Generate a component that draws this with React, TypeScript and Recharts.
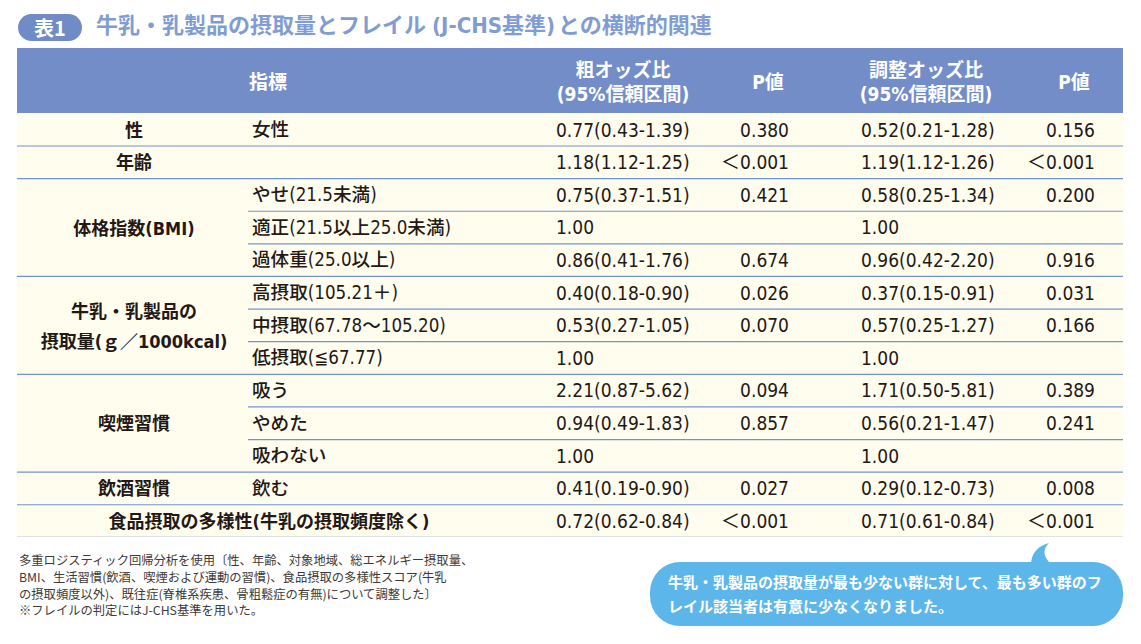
import { BarChart, Bar, XAxis, YAxis, CartesianGrid } from 'recharts'

const groupNames = [
  '性',
  '年齢',
  '体格指数(BMI)',
  '牛乳・乳製品の\n摂取量(ｇ／1000kcal)',
  '喫煙習慣',
  '飲酒習慣',
  '食品摂取の多様性(牛乳の摂取頻度除く)',
]
const groupSizes = [1, 1, 3, 3, 3, 1, 1]

const items = [
  '女性',
  '',
  'やせ(21.5未満)',
  '適正(21.5以上25.0未満)',
  '過体重(25.0以上)',
  '高摂取(105.21＋)',
  '中摂取(67.78～105.20)',
  '低摂取(≦67.77)',
  '吸う',
  'やめた',
  '吸わない',
  '飲む',
  '',
]

const crudeOR = [0.77, 1.18, 0.75, 1.0, 0.86, 0.4, 0.53, 1.0, 2.21, 0.94, 1.0, 0.41, 0.72]
const crudeLo = [0.43, 1.12, 0.37, null, 0.41, 0.18, 0.27, null, 0.87, 0.49, null, 0.19, 0.62]
const crudeHi = [1.39, 1.25, 1.51, null, 1.76, 0.9, 1.05, null, 5.62, 1.83, null, 0.9, 0.84]
const crudeP = ['0.380', '<0.001', '0.421', '', '0.674', '0.026', '0.070', '', '0.094', '0.857', '', '0.027', '<0.001']

const adjOR = [0.52, 1.19, 0.58, 1.0, 0.96, 0.37, 0.57, 1.0, 1.71, 0.56, 1.0, 0.29, 0.71]
const adjLo = [0.21, 1.12, 0.25, null, 0.42, 0.15, 0.25, null, 0.5, 0.21, null, 0.12, 0.61]
const adjHi = [1.28, 1.26, 1.34, null, 2.2, 0.91, 1.27, null, 5.81, 1.47, null, 0.73, 0.84]
const adjP = ['0.156', '<0.001', '0.200', '', '0.916', '0.031', '0.166', '', '0.389', '0.241', '', '0.008', '<0.001']

const FONT = "'Liberation Sans Narrow','DejaVu Sans Condensed','Noto Sans CJK JP',sans-serif"
const JP = "'Noto Sans CJK JP','Noto Sans',sans-serif"
const INK = '#231815'
const LINE = '#7393d0'

const fmt = (v: number | null) => (v == null ? '' : v.toFixed(2))
const orText = (or: number, lo: number | null, hi: number | null) =>
  lo == null ? fmt(or) : `${fmt(or)}(${fmt(lo)}-${fmt(hi)})`

// build table rows from the arrays
const rows: any[] = []
groupNames.forEach((g, gi) => {
  for (let k = 0; k < groupSizes[gi]; k++) {
    const i = rows.length
    rows.push({
      id: i,
      group: g,
      groupStart: k === 0,
      groupEnd: k === groupSizes[gi] - 1,
      groupSize: groupSizes[gi],
      wide: items[i] === '' && gi === groupNames.length - 1,
      item: items[i],
      crude: orText(crudeOR[i], crudeLo[i], crudeHi[i]),
      pCrude: crudeP[i].replace('<', '＜'),
      adj: orText(adjOR[i], adjLo[i], adjHi[i]),
      pAdj: adjP[i].replace('<', '＜'),
      span: 1,
    })
  }
})

const RowShape = (props: any) => {
  const { x, y, width, height, payload } = props
  const cy = y + height / 2
  const lineStart = payload.groupEnd ? x : 248
  const txt = { fontFamily: FONT, fontSize: 18, fill: INK, dominantBaseline: 'central' as const }
  let groupLabel = null
  if (payload.groupStart) {
    const gcy = y + (height * payload.groupSize) / 2
    const gx = payload.wide ? 269 : 134
    const lines = payload.group.split('\n')
    groupLabel = (
      <text x={gx} textAnchor="middle" {...txt} fontWeight={700}>
        {lines.map((l: string, li: number) => (
          <tspan key={li} x={gx} y={gcy + (li - (lines.length - 1) / 2) * 30}>
            {l}
          </tspan>
        ))}
      </text>
    )
  }
  return (
    <g>
      <line x1={lineStart} x2={x + width} y1={y + height} y2={y + height} stroke={LINE} strokeWidth={1.2} />
      {groupLabel}
      <text x={252} y={cy} {...txt} fontSize={18.6} fontWeight={500}>{payload.item}</text>
      <text x={556} y={cy} {...txt} fontSize={19}>{payload.crude}</text>
      <text x={789} y={cy} {...txt} fontSize={19} textAnchor="end">{payload.pCrude}</text>
      <text x={861} y={cy} {...txt} fontSize={19}>{payload.adj}</text>
      <text x={1095} y={cy} {...txt} fontSize={19} textAnchor="end">{payload.pAdj}</text>
    </g>
  )
}

const headerCells = [
  { cx: 268, lines: ['指標'] },
  { cx: 623, lines: ['粗オッズ比', '(95%信頼区間)'] },
  { cx: 768, lines: ['P値'] },
  { cx: 926, lines: ['調整オッズ比', '(95%信頼区間)'] },
  { cx: 1074, lines: ['P値'] },
]

export default function App() {
  return (
    <div style={{ position: 'relative', width: 1141, height: 644, background: '#fff', fontFamily: FONT, overflow: 'hidden' }}>
      <style>{'body{margin:0}'}</style>

      <div style={{ position: 'absolute', left: 18, top: 14, width: 64, height: 27, borderRadius: 14, background: '#6f8cc6', color: '#fff', fontFamily: JP, fontWeight: 700, fontSize: 20, lineHeight: '27px', textAlign: 'center' }}>
        表1
      </div>
      <div style={{ position: 'absolute', left: 96, top: 10, color: '#7f9dd4', fontWeight: 700, fontSize: 22, lineHeight: '32px', whiteSpace: 'nowrap' }}>
        牛乳・乳製品の摂取量とフレイル<span style={{ margin: '0 3px 0 6px' }}>(J-CHS基準)</span>との横断的関連
      </div>

      <div style={{ position: 'absolute', left: 17, top: 48, width: 1106, height: 65, background: '#738dc8' }}>
        {headerCells.map((h, i) => (
          <div key={i} style={{ position: 'absolute', left: h.cx - 17 - 100, width: 200, top: 0, height: 65, paddingTop: 3, boxSizing: 'border-box', display: 'flex', flexDirection: 'column', justifyContent: 'center', alignItems: 'center', color: '#fff', fontWeight: 700, fontSize: 19, lineHeight: '24px' }}>
            {h.lines.map((l, li) => (
              <div key={li}>{l}</div>
            ))}
          </div>
        ))}
      </div>

      <div style={{ position: 'absolute', left: 0, top: 113 }}>
        <BarChart width={1141} height={424} data={rows} layout="vertical" margin={{ top: 0, right: 18, bottom: 0, left: 17 }} barCategoryGap={0}>
          <CartesianGrid fill="#fffdee" horizontal={false} vertical={false} />
          <XAxis type="number" domain={[0, 1]} hide />
          <YAxis type="category" dataKey="id" hide />
          <Bar dataKey="span" isAnimationActive={false} shape={RowShape} />
        </BarChart>
      </div>

      <div style={{ position: 'absolute', left: 19, top: 552, fontFamily: JP, fontSize: 12.3, lineHeight: '16.8px', color: '#3e3a39', whiteSpace: 'nowrap' }}>
        多重ロジスティック回帰分析を使用〔性、年齢、対象地域、総エネルギー摂取量、<br />
        BMI、生活習慣(飲酒、喫煙および運動の習慣)、食品摂取の多様性スコア(牛乳<br />
        の摂取頻度以外)、既往症(脊椎系疾患、骨粗鬆症の有無)について調整した〕<br />
        ※フレイルの判定にはJ-CHS基準を用いた。
      </div>

      <svg style={{ position: 'absolute', left: 1020, top: 538 }} width={40} height={30}>
        <path d="M11,27 C11,15 18,8 29,5 C23,11 22,18 32,27 Z" fill="#5db6e9" />
      </svg>
      <div style={{ position: 'absolute', left: 650, top: 562, width: 473, height: 64, borderRadius: 30, background: '#5db6e9', color: '#fff', fontFamily: JP, fontWeight: 700, fontSize: 15, lineHeight: '24px', padding: '8px 0 0 18px', boxSizing: 'border-box', whiteSpace: 'nowrap' }}>
        牛乳・乳製品の摂取量が最も少ない群に対して、最も多い群のフ<br />
        レイル該当者は有意に少なくなりました。
      </div>
    </div>
  )
}
